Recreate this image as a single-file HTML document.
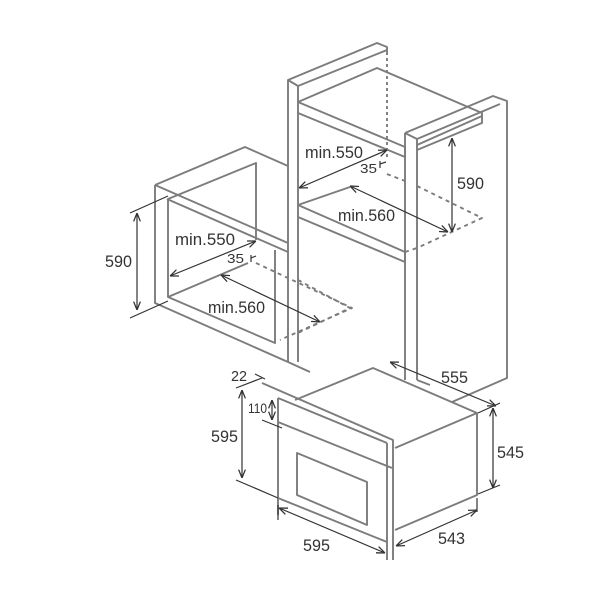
<!DOCTYPE html>
<html><head><meta charset="utf-8"><style>
html,body{margin:0;padding:0;background:#fff;}
svg{display:block}
text{font-family:"Liberation Sans",sans-serif;fill:#333;}
</style></head><body>
<svg width="600" height="600" viewBox="0 0 600 600" xmlns="http://www.w3.org/2000/svg">
<defs>
<marker id="a" viewBox="0 0 10 10" refX="10" refY="5" markerWidth="7" markerHeight="7" orient="auto-start-reverse"><path d="M0,1 L10,5 L0,9" fill="none" stroke="#333" stroke-width="1.5"/></marker>
</defs>
<g fill="none" stroke="#7c7c7c" stroke-width="1.9" stroke-linejoin="round">
<!-- left cabinet -->
<path d="M155,185 L245,147 L288,166"/>
<path d="M155,185 L155,303 L288,362"/>
<path d="M155,185 L288,243"/>
<path d="M167,199 L288,252"/>
<path d="M168,199 L168,297 L275,343 L275,250"/>
<path d="M168,199 L256,163 L256,240"/>
<path d="M168,297 L248,263"/>
<path stroke-dasharray="4,4" d="M256,263 L352,308 L280,340"/>
<!-- tall cabinet left post -->
<path d="M288,362 L288,80 L377,43 L387,47 L387,52"/>
<path d="M298,362 L298,86 L387,50"/>
<path d="M288,80 L298,86"/>
<path stroke-dasharray="3,3" d="M387,52 L387,160"/>
<!-- top shelf -->
<path d="M298,102 L377,68 L482,113 L482,123 L417,150"/>
<path d="M298,102 L405,147 L405,157"/>
<path d="M298,113 L405,157"/>
<path d="M417,145 L482,116"/>
<!-- right post & side panel -->
<path d="M405,133 L405,380"/>
<path d="M417,139 L417,380"/>
<path d="M405,133 L493,96 L507,101 L507,378 L452,402"/>
<path d="M405,133 L417,139 L500,104"/>
<!-- middle shelf -->
<path d="M298,205 L405,252 L405,262"/>
<path d="M298,217 L405,262"/>
<path d="M298,205 L350,187"/>
<path stroke-dasharray="4,4" d="M387,174 L405,181 M417,186 L482,218 L417,248 M405,252 L417,248"/>
<path stroke-dasharray="4,4" d="M298,280 L350,308 L298,333"/>
<!-- oven -->
<path d="M295,400 L373,368 L477,413 L395,448"/>
<path d="M477,413 L477,495 L395,530"/>
<path d="M262,383 L393,440 L393,560"/>
<path d="M278,398 L387,443"/>
<path d="M387,443 L387,560"/>
<path d="M278,398 L278,515"/>
<path d="M278,422 L392,468"/>
<path d="M278,498 L387,542"/>
<path d="M297,453 L367,482 L367,525 L297,495 Z"/>
<path d="M288,362 L310,372"/>
<path d="M417,380 L430,385"/>
</g>
<g fill="none" stroke="#333" stroke-width="1.2">
<path d="M130,213 L168,196 M130,318 L168,301"/>
<path d="M137,213 L137,310" marker-start="url(#a)" marker-end="url(#a)"/>
<path d="M170,276 L256,241" marker-start="url(#a)" marker-end="url(#a)"/>
<path d="M251,255 L251,262 M251,258 L256,256"/>
<path d="M221,275 L320,322" marker-start="url(#a)" marker-end="url(#a)"/>
<path d="M299,188 L387,150" marker-start="url(#a)" marker-end="url(#a)"/>
<path d="M380,161 L380,168 M380,164 L386,162"/>
<path d="M350,186 L448,232" marker-start="url(#a)" marker-end="url(#a)"/>
<path d="M452,138 L452,232" marker-start="url(#a)" marker-end="url(#a)"/>
<path d="M236,388 L262,378"/>
<path d="M255,374 L265,379"/>
<path d="M242,390 L242,478" marker-start="url(#a)" marker-end="url(#a)"/>
<path d="M236,480 L278,498"/>
<path d="M272,400 L272,420" marker-start="url(#a)" marker-end="url(#a)"/>
<path d="M262,420 L282,428"/>
<path d="M390,362 L496,406" marker-start="url(#a)" marker-end="url(#a)"/>
<path d="M478,413 L500,403 M478,494 L500,485"/>
<path d="M493,408 L493,488" marker-start="url(#a)" marker-end="url(#a)"/>
<path d="M278,505 L278,520"/>
<path d="M279,508 L385,553" marker-start="url(#a)" marker-end="url(#a)"/>
<path d="M477,498 L477,512"/>
<path d="M396,546 L477,510" marker-start="url(#a)" marker-end="url(#a)"/>
</g>
<g font-size="17" lengthAdjust="spacingAndGlyphs">
<text x="105" y="267" textLength="27" lengthAdjust="spacingAndGlyphs">590</text>
<text x="175" y="245" textLength="60" lengthAdjust="spacingAndGlyphs">min.550</text>
<text x="227" y="263" font-size="13" textLength="17" lengthAdjust="spacingAndGlyphs">35</text>
<text x="208" y="313" textLength="57" lengthAdjust="spacingAndGlyphs">min.560</text>
<text x="305" y="158" textLength="58" lengthAdjust="spacingAndGlyphs">min.550</text>
<text x="360" y="173" font-size="13" textLength="17" lengthAdjust="spacingAndGlyphs">35</text>
<text x="338" y="221" textLength="57" lengthAdjust="spacingAndGlyphs">min.560</text>
<text x="457" y="189" textLength="27" lengthAdjust="spacingAndGlyphs">590</text>
<text x="231" y="381" font-size="15" textLength="16" lengthAdjust="spacingAndGlyphs">22</text>
<text x="248" y="413" font-size="14" textLength="19" lengthAdjust="spacingAndGlyphs">110</text>
<text x="211" y="442" textLength="27" lengthAdjust="spacingAndGlyphs">595</text>
<text x="441" y="383" textLength="27" lengthAdjust="spacingAndGlyphs">555</text>
<text x="497" y="458" textLength="27" lengthAdjust="spacingAndGlyphs">545</text>
<text x="303" y="551" textLength="27" lengthAdjust="spacingAndGlyphs">595</text>
<text x="438" y="544" textLength="27" lengthAdjust="spacingAndGlyphs">543</text>
</g>
</svg>
</body></html>
